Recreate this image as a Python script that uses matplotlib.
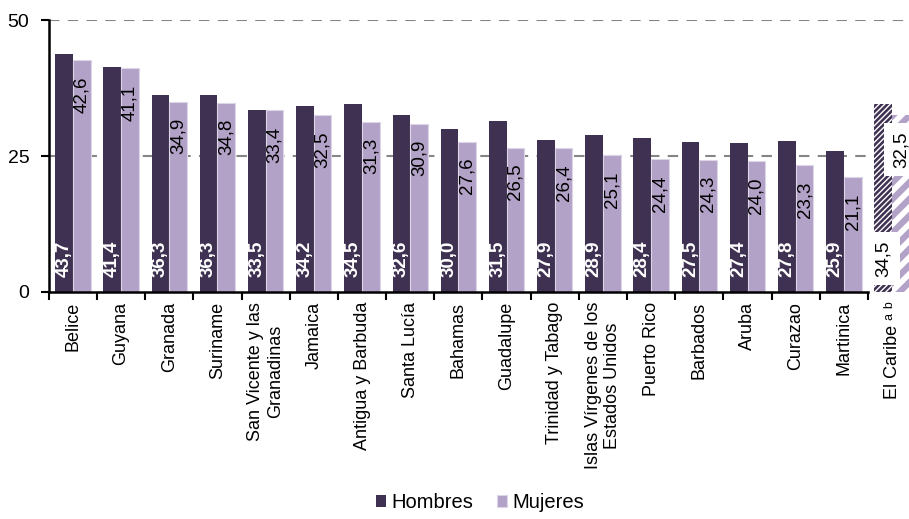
import matplotlib.pyplot as plt
import numpy as np

# datos (porcentajes)
paises = ["Belice", "Guyana", "Granada", "Suriname", "San Vicente y las\nGranadinas",
          "Jamaica", "Antigua y Barbuda", "Santa Lucía", "Bahamas", "Guadalupe",
          "Trinidad y Tabago", "Islas Vírgenes de los\nEstados Unidos", "Puerto Rico",
          "Barbados", "Aruba", "Curazao", "Martinica", "El Caribe ᵃ ᵇ"]
hombres = [43.7, 41.4, 36.3, 36.3, 33.5, 34.2, 34.5, 32.6, 30.0, 31.5,
           27.9, 28.9, 28.4, 27.5, 27.4, 27.8, 25.9, 34.5]
mujeres = [42.6, 41.1, 34.9, 34.8, 33.4, 32.5, 31.3, 30.9, 27.6, 26.5,
           26.4, 25.1, 24.4, 24.3, 24.0, 23.3, 21.1, 32.5]

c_hom = "#3f3151"
c_muj = "#b3a2c7"

plt.rcParams['font.family'] = ['Liberation Sans', 'DejaVu Sans']
plt.rcParams['font.size'] = 13

fig = plt.figure(figsize=(9.09, 5.19), dpi=100)
ax = fig.add_axes([0.0536, 0.4374, 0.9544, 0.524])

n = len(paises)
x = np.arange(n)
w = 0.367
ult = n - 1  # El Caribe (agregado regional)

# barras por pais
b1 = ax.bar(x[:ult] - w / 2, hombres[:ult], w, color=c_hom, zorder=2)
b2 = ax.bar(x[:ult] + w / 2, mujeres[:ult], w, color=c_muj,
            edgecolor="#ddd5e8", linewidth=0.8, zorder=2)

# El Caribe, con trama
with plt.rc_context({'hatch.linewidth': 1.0}):
    h1 = ax.bar(x[ult] - w / 2, hombres[ult], w, color=c_hom, edgecolor="white",
                linewidth=0, hatch="//////", zorder=2)
with plt.rc_context({'hatch.linewidth': 4.0}):
    h2 = ax.bar(x[ult] + w / 2, mujeres[ult], w, color=c_muj, edgecolor="white",
                linewidth=0, hatch="//", zorder=2)
if hasattr(h1[0], "set_hatch_linewidth"):
    h1[0].set_hatch_linewidth(1.0)
    h2[0].set_hatch_linewidth(4.0)

# etiquetas de valores
def fmt(v):
    return f"{v:.1f}".replace(".", ",")

for i in range(n):
    if i < ult:
        ax.annotate(fmt(hombres[i]), (x[i] - w / 2, 0), xytext=(0, 11),
                    textcoords="offset points", rotation=90, ha="center", va="bottom",
                    color="white", fontweight="bold", fontsize=13.5, zorder=3)
        ax.annotate(fmt(mujeres[i]), (x[i] + w / 2, mujeres[i]), xytext=(0, -11.5),
                    textcoords="offset points", rotation=90, ha="center", va="top",
                    color="black", fontsize=13.5, zorder=3)
    else:
        box = dict(boxstyle="square,pad=0.45", facecolor="white", edgecolor="none")
        ax.annotate(fmt(hombres[i]), (x[i] - w / 2, 0), xytext=(0, 11),
                    textcoords="offset points", rotation=90, ha="center", va="bottom",
                    color="black", fontsize=13.5, bbox=box, zorder=3,
                    annotation_clip=False)
        ax.annotate(fmt(mujeres[i]), (x[i] + w / 2, mujeres[i]), xytext=(0, -11.5),
                    textcoords="offset points", rotation=90, ha="center", va="top",
                    color="black", fontsize=13.5, bbox=box, zorder=3,
                    annotation_clip=False)

# lineas guia
for yv in [25, 50]:
    ax.axhline(yv, color="#858585", lw=1.5, dashes=(5, 4), zorder=1)

ax.set_xlim(-0.5, n - 0.5)
ax.set_ylim(0, 50)
ax.set_yticks([0, 25, 50])

ax.set_xticks(np.arange(-0.5, ult, 1))
ax.set_xticklabels([])
ax.set_xticks(x, minor=True)
ax.set_xticklabels(paises, minor=True, rotation=90, ha="center", va="top",
                   multialignment="center")
ax.tick_params(axis="x", which="minor", length=0, pad=7)
ax.tick_params(axis="x", which="major", length=6, width=1.5, direction="out")
ax.tick_params(axis="y", length=6, width=1.5, pad=8, labelsize=14)

for s in ["top", "right"]:
    ax.spines[s].set_visible(False)
for s in ["left", "bottom"]:
    ax.spines[s].set_linewidth(1.8)
ax.spines["bottom"].set_bounds(-0.5, ult - 0.5)

fig.legend([b1[0], b2[0]], ["Hombres", "Mujeres"], loc="lower center",
           bbox_to_anchor=(0.528, -0.022), ncol=2, frameon=False, fontsize=14.5,
           handlelength=0.5, handleheight=0.5, handletextpad=0.25, columnspacing=1.2)

fig.savefig("out.png", dpi=100)
